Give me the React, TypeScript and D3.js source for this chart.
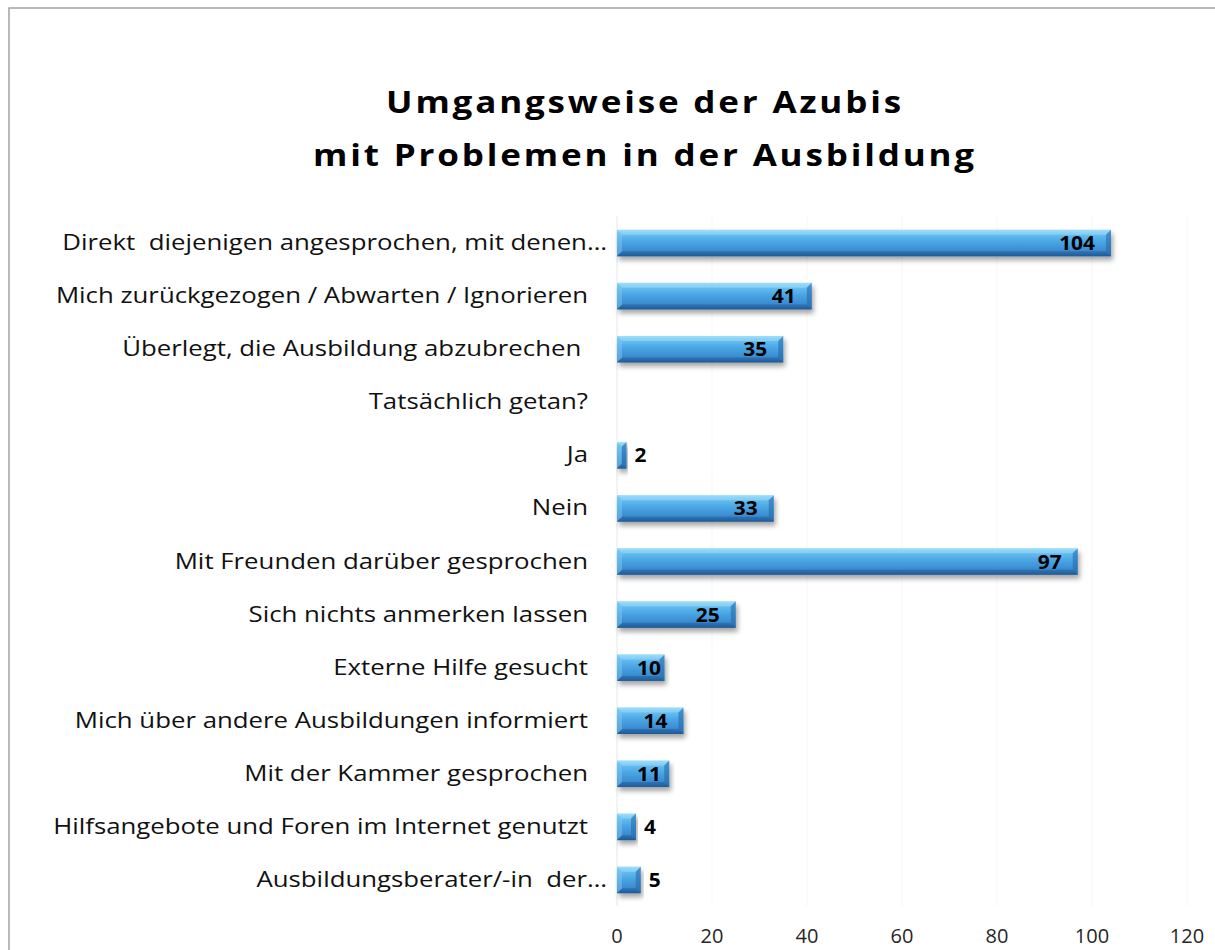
import React from "react";
import * as d3 from "d3";

const categories: string[] = [
  "Direkt  diejenigen angesprochen, mit denen…",
  "Mich zurückgezogen / Abwarten / Ignorieren",
  "Überlegt, die Ausbildung abzubrechen ",
  "Tatsächlich getan?",
  "Ja",
  "Nein",
  "Mit Freunden darüber gesprochen",
  "Sich nichts anmerken lassen",
  "Externe Hilfe gesucht",
  "Mich über andere Ausbildungen informiert",
  "Mit der Kammer gesprochen",
  "Hilfsangebote und Foren im Internet genutzt",
  "Ausbildungsberater/-in  der…",
];
const values: (number | null)[] = [104, 41, 35, null, 2, 33, 97, 25, 10, 14, 11, 4, 5];
const xTicks: number[] = [0, 20, 40, 60, 80, 100, 120];
const titleLines: string[] = ["Umgangsweise der Azubis", "mit Problemen in der Ausbildung"];

const W = 1215;
const H = 950;
const FONT = "'Open Sans', 'Liberation Sans', sans-serif";

export default function App() {
  const x = d3.scaleLinear().domain([0, 120]).range([617, 1187]);
  const y = d3.scaleBand<string>().domain(categories).range([216.5, 906.5]).paddingInner(0.5).paddingOuter(0.25);
  const bh = y.bandwidth();
  const x0 = x(0);

  return (
    <svg width={W} height={H} style={{ position: "absolute", left: 0, top: 0, background: "#fff" }}>
      <defs>
        <linearGradient id="barGrad" x1="0" y1="0" x2="0" y2="1">
          <stop offset="0" stopColor="#a6e0fb" />
          <stop offset="0.12" stopColor="#6cc4f2" />
          <stop offset="0.45" stopColor="#4aa6e4" />
          <stop offset="0.85" stopColor="#3786cc" />
          <stop offset="1" stopColor="#245f98" />
        </linearGradient>
        <filter id="shadow" x="-10%" y="-30%" width="120%" height="180%">
          <feDropShadow dx="2" dy="4" stdDeviation="2.5" floodColor="#000" floodOpacity="0.35" />
        </filter>
      </defs>
      <rect x={9} y={8} width={W} height={H + 20} fill="#fff" stroke="#a3a3a3" strokeWidth={1.5} />

      {titleLines.map((t, i) => (
        <text
          key={t}
          transform={`translate(645,${113 + i * 53}) scale(1.13,1)`}
          textAnchor="middle"
          fontFamily={FONT}
          fontWeight="bold"
          fontSize={31}
          letterSpacing={2.5}
          fill="#000"
        >
          {t}
        </text>
      ))}

      {xTicks.map((t) => (
        <line key={"g" + t} x1={x(t)} x2={x(t)} y1={216} y2={906} stroke={t === 0 ? "#e6e6e6" : "#f7f7f7"} strokeWidth={1} />
      ))}

      {xTicks.map((t) => (
        <text key={"t" + t} x={x(t)} y={943} textAnchor="middle" fontFamily={FONT} fontSize={20} fill="#262626">
          {t}
        </text>
      ))}

      {categories.map((c, i) => {
        const cy = (y(c) as number) + bh / 2;
        const truncated = c.endsWith("…");
        return (
          <text
            key={"c" + i}
            transform={`translate(${truncated ? 607 : 588},${cy + 7}) scale(1.2,1)`}
            textAnchor="end"
            fontFamily={FONT}
            fontSize={21.5}
            fill="#111"
            style={{ whiteSpace: "pre" }}
          >
            {c}
          </text>
        );
      })}

      {categories.map((c, i) => {
        const v = values[i];
        if (v == null) return null;
        const top = y(c) as number;
        const x1 = x(v);
        const w = x1 - x0;
        const b = Math.min(5, w / 2);
        const inside = w > 40;
        const labelEnd = Math.max(x1 - 16, x0 + 44);
        return (
          <g key={"b" + i}>
            <g filter="url(#shadow)">
              <rect x={x0} y={top} width={w} height={bh} fill="url(#barGrad)" />
            </g>
            <polygon points={`${x0},${top} ${x1},${top} ${x1 - b},${top + b} ${x0 + b},${top + b}`} fill="#9fdcfa" opacity={0.55} />
            <polygon points={`${x0},${top + bh} ${x1},${top + bh} ${x1 - b},${top + bh - b} ${x0 + b},${top + bh - b}`} fill="#1d5490" opacity={0.45} />
            <polygon points={`${x1},${top} ${x1},${top + bh} ${x1 - b},${top + bh - b} ${x1 - b},${top + b}`} fill="#2a6aa8" opacity={0.6} />
            <polygon points={`${x0},${top} ${x0},${top + bh} ${x0 + b},${top + bh - b} ${x0 + b},${top + b}`} fill="#7cc8f2" opacity={0.5} />
            <text
              transform={`translate(${inside ? labelEnd : x1 + 8},${top + bh / 2 + 7}) scale(1.1,1)`}
              textAnchor={inside ? "end" : "start"}
              fontFamily={FONT}
              fontWeight="bold"
              fontSize={19}
              fill="#000"
            >
              {v}
            </text>
          </g>
        );
      })}
    </svg>
  );
}
